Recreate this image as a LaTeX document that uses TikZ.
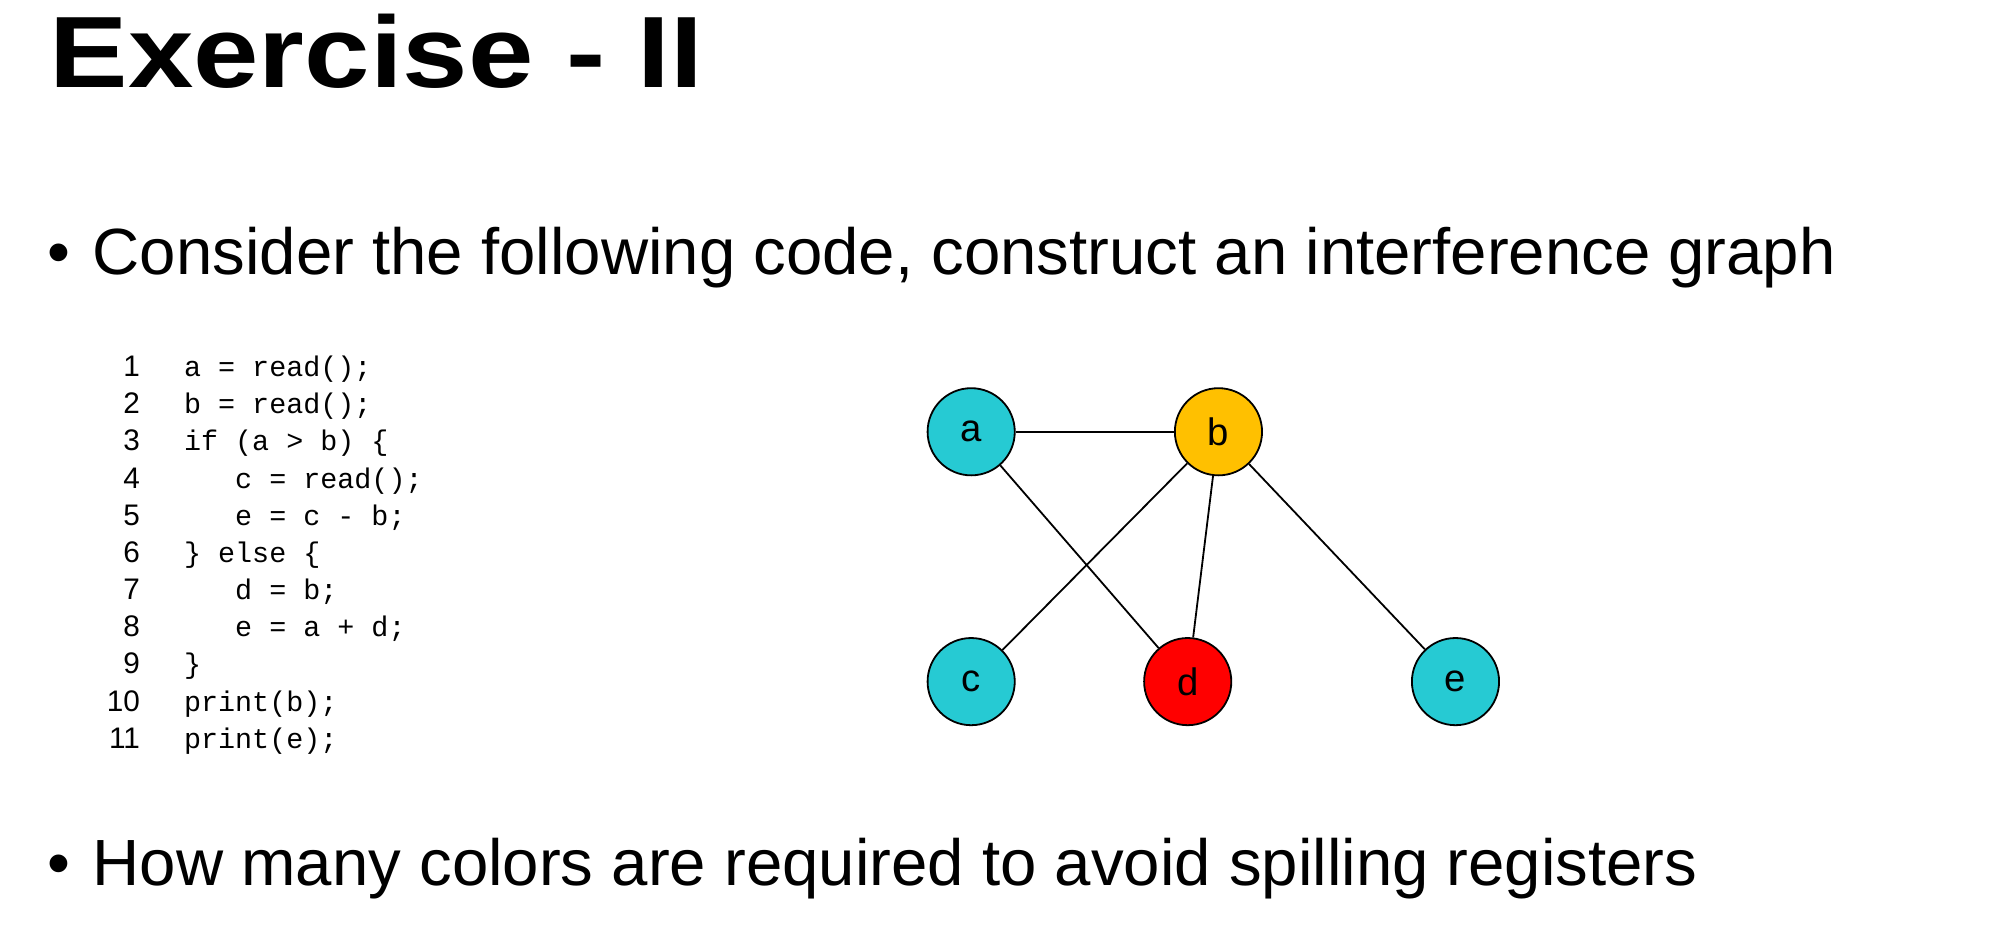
\documentclass[tikz,border=0pt]{standalone}
\usepackage{fontspec}
\setmainfont{Liberation Sans}
\setmonofont{Liberation Mono}
\tikzset{
  var/.style={circle, draw=black, thin, minimum size=0.68cm, inner sep=0pt, font=\fontsize{8.5}{10}\selectfont},
  codeline/.style={anchor=base west, inner sep=0pt, font=\ttfamily\fontsize{6.3}{7}\selectfont},
  lineno/.style={anchor=base east, inner sep=0pt, font=\fontsize{6.6}{7}\selectfont},
  bullet/.style={anchor=base west, inner sep=0pt, font=\fontsize{14.5}{17}\selectfont}
}
\definecolor{regcyan}{HTML}{26CAD3}
\definecolor{regorange}{HTML}{FFC000}
\begin{document}
\begin{tikzpicture}[x=0.01cm, y=-0.01cm]
\useasboundingbox[fill=white] (0,0) rectangle (1568,725);

\node[anchor=base west, inner sep=0pt, xscale=1.16, font=\fontsize{22.5}{26}\selectfont\bfseries] (title) at (38,68) {Exercise - II};
\node[bullet] (q1) at (36,214) {\textbullet\hspace{0.35em}Consider the following code, construct an interference graph};
\node[bullet] (q2) at (36,691) {\textbullet\hspace{0.35em}How many colors are required to avoid spilling registers};

% code listing
\foreach \n/\y/\txt in {1/294/{a = read();}, 2/323/{b = read();}, 3/352/{if (a > b) \{},
    4/381/{\ \ \ c = read();}, 5/410/{\ \ \ e = c - b;}, 6/439/{\} else \{},
    7/468/{\ \ \ d = b;}, 8/497/{\ \ \ e = a + d;}, 9/526/{\}},
    10/555/{print(b);}, 11/584/{print(e);}}{
  \node[lineno] (n\n) at (110,\y) {\n};
  \node[codeline] (l\n) at (143,\y) {\txt};
}

% interference graph
\node[var, fill=regcyan] (a) at (758,337) {a};
\node[var, fill=regorange] (b) at (951,337) {b};
\node[var, fill=regcyan] (c) at (758,532) {c};
\node[var, fill=red] (d) at (927,532) {d};
\node[var, fill=regcyan] (e) at (1136,532) {e};

\draw (a) -- (b);
\draw (a) -- (d);
\draw (b) -- (c);
\draw (b) -- (d);
\draw (b) -- (e);
\end{tikzpicture}
\end{document}
